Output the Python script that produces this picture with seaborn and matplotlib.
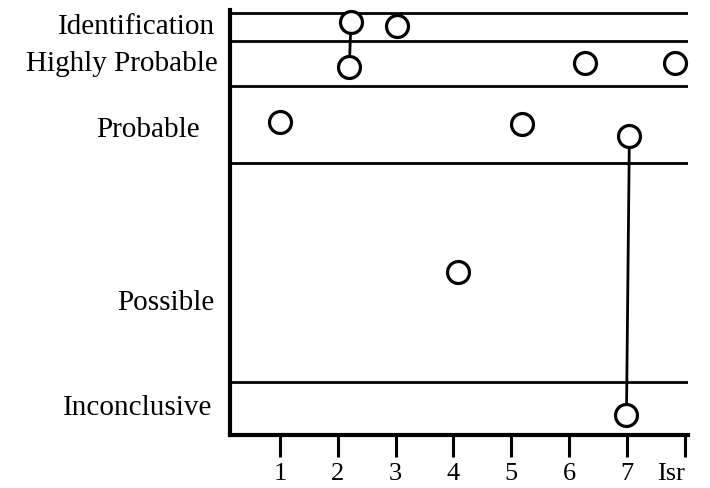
import matplotlib
matplotlib.use("Agg")
import matplotlib.pyplot as plt
import matplotlib.transforms as mtransforms
import numpy as np
import pandas as pd
import seaborn as sns

# Tools compared along the bottom axis
tools = ["1", "2", "3", "4", "5", "6", "7", "Isr"]

# Conclusion scale (bottom to top) and the boundaries between bands
levels = ["Inconclusive", "Possible", "Probable", "Highly Probable", "Identification"]
level_bounds = [12.6, 64.5, 82.7, 93.4, 100.0]
level_label_y = [6.4, 31.3, 72.3, 87.9, 96.7]

# Individual conclusions: tool position, scale value, tool group
pt_tool = [1.00, 2.23, 2.20, 3.02, 4.08, 5.18, 6.27, 7.04, 6.99, 7.83]
pt_score = [74.1, 97.9, 87.3, 96.8, 38.7, 73.6, 88.2, 70.9, 4.7, 88.2]
pt_group = ["1", "2", "2", "3", "4", "5", "6", "7", "7", "Isr"]

df = pd.DataFrame({"tool": pt_tool, "score": pt_score, "group": pt_group})

sns.set_theme(style="white")
plt.rcParams["font.family"] = ["Liberation Serif", "DejaVu Serif"]

fig = plt.figure(figsize=(7.1, 4.88), dpi=100)
ax = fig.add_axes([230 / 710, 53 / 488, 458 / 710, 425 / 488])

# Band separators
for b in level_bounds:
    ax.axhline(b, color="black", lw=2.0, zorder=1)

# Vertical connectors between split conclusions of the same tool
multi = df[df.groupby("group")["group"].transform("size") > 1]
sns.lineplot(data=multi, x="tool", y="score", units="group", estimator=None,
             sort=False, color="black", lw=2.0, ax=ax, legend=False, zorder=2)

# Open circles
sns.scatterplot(data=df, x="tool", y="score", s=250, marker="o",
                facecolor="white", edgecolor="black", linewidth=2.3,
                ax=ax, legend=False, zorder=3)

ax.set_xlim(0.139, 8.053)
ax.set_ylim(0, 100.7)

sns.despine(ax=ax)
ax.spines["left"].set_linewidth(3.0)
ax.spines["bottom"].set_linewidth(3.0)
ax.spines["left"].set_color("black")
ax.spines["bottom"].set_color("black")

ax.set_xticks(range(1, len(tools) + 1))
ax.set_xticklabels(tools)
ax.set_yticks([])
ax.tick_params(axis="x", bottom=True, direction="out", length=16, width=2.2,
               color="black", pad=4, labelsize=19, labelcolor="black")
last = ax.get_xticklabels()[-1]
last.set_horizontalalignment("right")

ax.set_xlabel("")
ax.set_ylabel("")

# Conclusion labels on the left
label_right_px = [212, 214, 200, 218, 215]
for name, y, rpx in zip(levels, level_label_y, label_right_px):
    off = (rpx - 230) / 100.0
    trans = mtransforms.blended_transform_factory(ax.transAxes, ax.transData) + \
        mtransforms.ScaledTranslation(off, 0, fig.dpi_scale_trans)
    ax.text(0, y, name, transform=trans, ha="right", va="center",
            fontsize=21, color="black")

fig.savefig("out.png", dpi=100, facecolor="white")
